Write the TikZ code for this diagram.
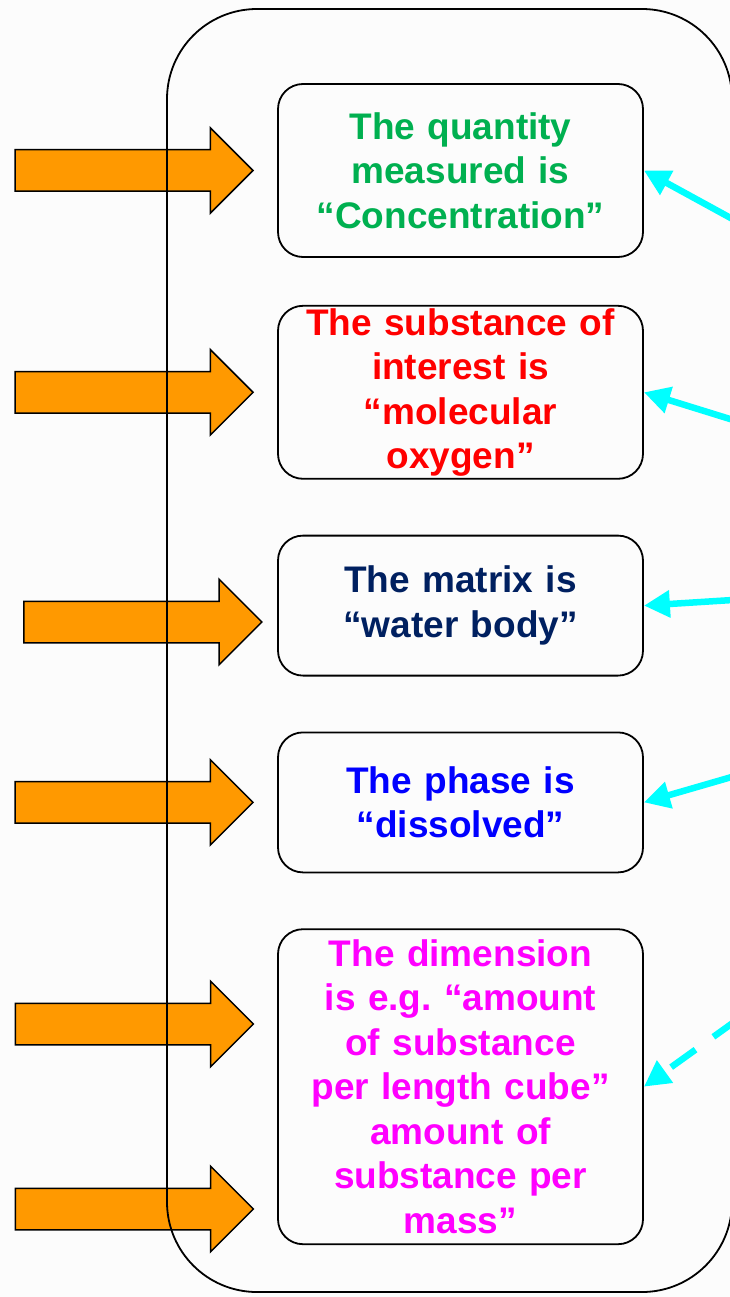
\documentclass[tikz,border=0pt]{standalone}
\usepackage{fontspec}
\setmainfont{Liberation Sans}
\usetikzlibrary{positioning, shapes.arrows, arrows.meta}
\definecolor{paper}{HTML}{FCFCFC}
\definecolor{qgreen}{HTML}{00B050}
\definecolor{qred}{HTML}{FF0000}
\definecolor{qnavy}{HTML}{002060}
\definecolor{qblue}{HTML}{0000FF}
\definecolor{qmagenta}{HTML}{FF00FF}
\definecolor{feed}{HTML}{FF9900}
\definecolor{link}{HTML}{00FFFF}

\begin{document}
\begin{tikzpicture}[
  x=1pt, y=-1pt,
  font=\fontsize{37}{44.5}\selectfont\bfseries,
  facet/.style={draw=black, line width=1.8pt, rounded corners=25pt,
              minimum width=365pt, align=center, inner sep=0pt, text width=360pt},
  feedarrow/.style={single arrow, draw=black, fill=feed, line width=1.5pt,
              minimum height=238pt, inner xsep=0pt, inner ysep=20pt,
              single arrow head extend=22pt},
  pointer/.style={-{Triangle[length=26pt, width=26pt]}, line width=6.5pt, link}
]
  \useasboundingbox (0,0) rectangle (730,1297);
  \fill[paper] (0,0) rectangle (730,1297);

  % Facet boxes
  \node[facet, minimum height=173pt, text=qgreen] (b1) at (460.5,170.5)
    {The quantity\\measured is\\“Concentration”};
  \node[facet, minimum height=173pt, text=qred, below=47pt of b1] (b2)
    {The substance of\\interest is\\“molecular\\oxygen”};
  \node[facet, minimum height=140pt, text=qnavy, below=55pt of b2] (b3)
    {The matrix is\\“water body”};
  \node[facet, minimum height=140pt, text=qblue, below=55pt of b3] (b4)
    {The phase is\\“dissolved”};
  \node[facet, minimum height=315pt, text=qmagenta, below=55pt of b4] (b5)
    {The dimension\\is e.g.\ “amount\\of substance\\per length cube”\\amount of\\substance per\\mass”};

  % Orange inputs
  \node[feedarrow, left=23pt of b1] (in1) {};
  \node[feedarrow, left=23pt of b2] (in2) {};
  \node[feedarrow] (in3) at (132.5,622) {};
  \node[feedarrow, left=23pt of b4] (in4) {};
  \node[feedarrow] (in5) at (124,1024) {};
  \node[feedarrow] (in6) at (124,1209) {};

  % Outer frame, over the inputs
  \node[draw=black, line width=1.8pt, rounded corners=90pt, inner sep=0pt,
        minimum width=565pt, minimum height=1283pt] (frame) at (449.5,650.5) {};

  % Cyan pointers from the right
  \coordinate (s1) at (780,245);
  \coordinate (s2) at (780,434.5);
  \coordinate (s3) at (780,597);
  \coordinate (s4) at (780,763);
  \coordinate (s5) at (780,989);
  \draw[pointer] (s1) -- (b1.east);
  \draw[pointer] (s2) -- (b2.east);
  \draw[pointer] (s3) -- (b3.east);
  \draw[pointer] (s4) -- (b4.east);
  \draw[pointer, dash pattern=on 30pt off 22pt] (s5) -- (b5.east);
\end{tikzpicture}
\end{document}
